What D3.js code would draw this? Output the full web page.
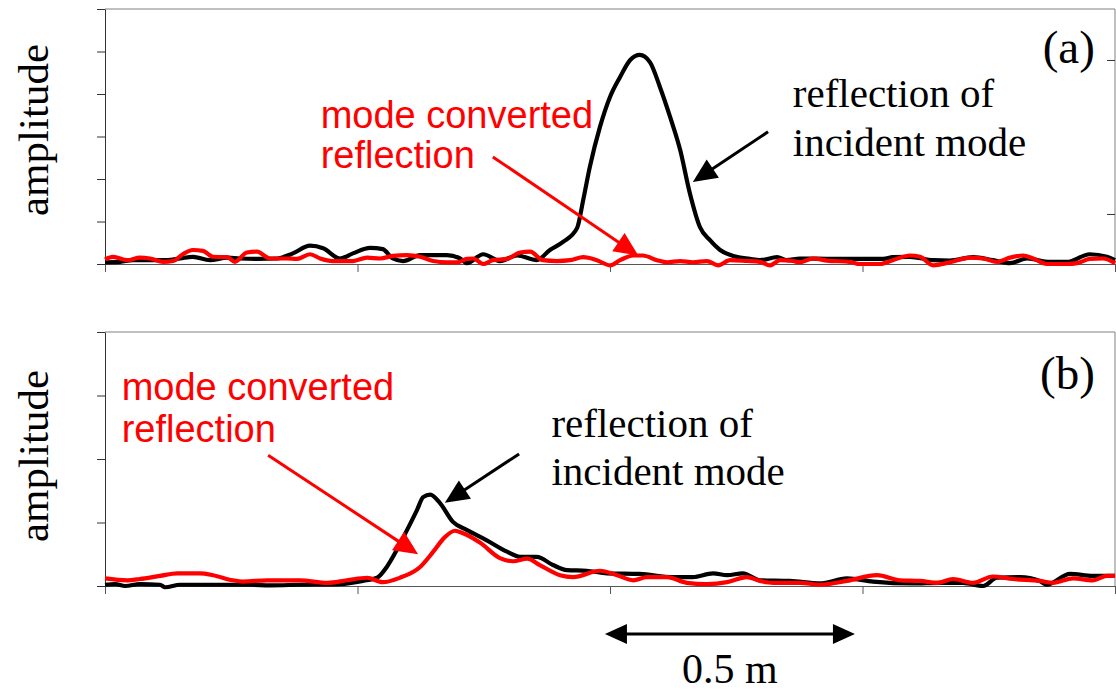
<!DOCTYPE html>
<html>
<head>
<meta charset="utf-8">
<script src="https://cdn.jsdelivr.net/npm/d3@7"></script>
<style>
  body { margin: 0; background: #fff; }
  svg { display: block; }
  .serif { font-family: "Liberation Serif", "Times New Roman", serif; }
  .sans { font-family: "Liberation Sans", Arial, sans-serif; }
</style>
</head>
<body>
<svg width="1116" height="695"></svg>
<script>
// [position (m), amplitude]
const blackA = [[0,0.04],[0.030,0.05],[0.055,0.09],[0.089,0.09],[0.123,0.09],[0.149,0.13],[0.174,0.17],
  [0.208,0.09],[0.242,0.15],[0.267,0.13],[0.301,0.12],[0.341,0.13],[0.372,0.25],[0.406,0.43],[0.432,0.37],
  [0.465,0.13],[0.491,0.25],[0.525,0.38],[0.550,0.35],[0.570,0.13],[0.590,0.07],[0.624,0.21],[0.677,0.21],
  [0.703,0.13],[0.717,0.02],[0.749,0.23],[0.782,0.07],[0.816,0.20],[0.855,0.09],[0.881,0.33],[0.907,0.52],
  [0.935,0.85],[0.947,1.51],[0.960,2.28],[0.980,3.22],[1.000,3.93],[1.020,4.40],[1.040,4.80],[1.059,4.92],
  [1.079,4.75],[1.099,4.16],[1.119,3.46],[1.139,2.68],[1.158,1.67],[1.178,0.87],[1.198,0.56],[1.218,0.33],
  [1.244,0.19],[1.277,0.12],[1.297,0.09],[1.331,0.16],[1.350,0.09],[1.376,0.13],[1.442,0.12],[1.541,0.12],
  [1.560,0.16],[1.594,0.17],[1.640,0.09],[1.673,0.08],[1.719,0.16],[1.758,0.09],[1.792,0.02],[1.826,0.13],
  [1.871,0.05],[1.905,0.05],[1.950,0.23],[1.984,0.17],[2.0,0.09]];

const redA = [[0,0.11],[0.016,0.17],[0.044,0.09],[0.069,0.15],[0.089,0.13],[0.115,0.05],[0.135,0.07],
  [0.154,0.23],[0.174,0.33],[0.194,0.31],[0.214,0.17],[0.242,0.16],[0.257,0.05],[0.281,0.27],[0.301,0.29],
  [0.327,0.13],[0.360,0.13],[0.380,0.12],[0.406,0.23],[0.426,0.13],[0.451,0.07],[0.491,0.07],[0.519,0.15],
  [0.545,0.13],[0.570,0.19],[0.598,0.21],[0.624,0.17],[0.650,0.07],[0.677,0.04],[0.697,0.04],[0.717,0.12],
  [0.729,0.13],[0.749,0],[0.768,0.09],[0.796,0.12],[0.822,0.27],[0.842,0.29],[0.867,0.09],[0.895,0.07],
  [0.921,0.09],[0.947,0.16],[0.974,0.09],[1.000,-0.03],[1.020,0.09],[1.046,0.20],[1.065,0.20],[1.093,0.09],
  [1.113,0.04],[1.139,0.07],[1.164,0.04],[1.192,0.07],[1.214,-0.03],[1.238,0.09],[1.271,0.07],[1.297,0.05],
  [1.317,-0.03],[1.337,0.09],[1.362,0.07],[1.376,0.04],[1.402,0.13],[1.430,0.08],[1.475,0.05],[1.495,0],
  [1.535,0],[1.560,0.09],[1.594,0.20],[1.614,0.17],[1.640,-0.03],[1.673,0.04],[1.713,0.15],[1.739,0.13],
  [1.766,0.05],[1.792,0.15],[1.818,0.20],[1.838,0.13],[1.865,0],[1.905,0],[1.925,0.02],[1.950,0.12],
  [1.976,0.13],[2.0,0.02]];

const blackB = [[0,0.02],[0.020,0.03],[0.040,0],[0.069,0.03],[0.109,0.02],[0.119,-0.02],[0.149,0.02],
  [0.287,0.02],[0.327,0.01],[0.386,0.02],[0.465,0.03],[0.511,0.08],[0.539,0.13],[0.558,0.30],[0.578,0.57],
  [0.598,0.88],[0.618,1.20],[0.630,1.40],[0.644,1.44],[0.663,1.31],[0.689,1.01],[0.717,0.88],[0.756,0.72],
  [0.796,0.54],[0.822,0.46],[0.855,0.46],[0.887,0.33],[0.915,0.25],[0.954,0.24],[0.994,0.20],[1.059,0.19],
  [1.125,0.14],[1.164,0.14],[1.204,0.20],[1.232,0.17],[1.263,0.20],[1.297,0.09],[1.356,0.08],[1.416,0.04],
  [1.469,0.12],[1.521,0.07],[1.600,0.04],[1.653,0.05],[1.699,0.05],[1.739,0],[1.766,0.13],[1.812,0.14],
  [1.851,0.08],[1.865,0.02],[1.911,0.19],[1.956,0.16],[2.0,0.16]];

const redB = [[0,0.12],[0.044,0.09],[0.069,0.11],[0.109,0.16],[0.143,0.20],[0.188,0.20],[0.214,0.17],
  [0.253,0.09],[0.273,0.07],[0.321,0.09],[0.386,0.09],[0.440,0.05],[0.479,0.09],[0.519,0.13],[0.550,0.06],
  [0.584,0.13],[0.624,0.30],[0.650,0.54],[0.673,0.77],[0.693,0.87],[0.709,0.83],[0.743,0.68],[0.782,0.44],
  [0.808,0.39],[0.836,0.43],[0.861,0.33],[0.901,0.17],[0.927,0.14],[0.980,0.24],[1.014,0.17],[1.046,0.09],
  [1.073,0.14],[1.113,0.14],[1.152,0.05],[1.192,0.03],[1.232,0.06],[1.271,0.14],[1.297,0.08],[1.323,0.05],
  [1.376,0.05],[1.416,0.02],[1.469,0.08],[1.529,0.17],[1.574,0.09],[1.614,0.08],[1.648,0.05],[1.679,0.11],
  [1.719,0.05],[1.758,0.15],[1.798,0.11],[1.851,0.08],[1.877,0.05],[1.917,0.12],[1.956,0.09],[1.984,0.16],
  [2.0,0.16]];

// tick values
const xTicks = [0, 0.5, 1, 1.5, 2];
const yTicksA = [0, 1, 2, 3, 4, 5, 6];
const yTicksB = [0, 1, 2, 3, 4];
const rightTicksA = [0, 1];

// scale bar (m)
const scaleBar = [0.99, 1.485];

const svg = d3.select('svg');
const margin = {left: 105, right: 1};
const width = +svg.attr('width');
const innerWidth = width - margin.left - margin.right;

const x = d3.scaleLinear().domain([0, 2]).range([margin.left, margin.left + innerWidth]);

const panels = [
  {id: 'a', top: 9, bottom: 264, max: 6, ticks: yTicksA, black: blackA, red: redA, labelMid: 130,
   redText: {x: 0.427, y: [3.2, 2.25]}, blackText: {x: 1.362, y: [3.7, 2.55]},
   redArrow: [0.768, 2.52, 1.056, 0.2], blackArrow: [1.313, 3.11, 1.164, 1.93], labelY: 4.72},
  {id: 'b', top: 332, bottom: 586, max: 4, ticks: yTicksB, black: blackB, red: redB, labelMid: 456,
   redText: {x: 0.033, y: [2.93, 2.27]}, blackText: {x: 0.884, y: [2.34, 1.59]},
   redArrow: [0.323, 2.06, 0.620, 0.50], blackArrow: [0.820, 2.08, 0.673, 1.31], labelY: 3.11}
];

// filled arrow head helper
function arrow(g, x1, y1, x2, y2, color, len, half) {
  const dx = x2 - x1, dy = y2 - y1, d = Math.sqrt(dx * dx + dy * dy);
  const ux = dx / d, uy = dy / d;
  const bx = x2 - ux * len, by = y2 - uy * len;
  g.append('line')
    .attr('x1', x1).attr('y1', y1).attr('x2', bx + ux * 2).attr('y2', by + uy * 2)
    .attr('stroke', color).attr('stroke-width', 3);
  g.append('path')
    .attr('d', `M${x2},${y2}L${bx - uy * half},${by + ux * half}L${bx + uy * half},${by - ux * half}Z`)
    .attr('fill', color);
}

panels.forEach(p => {
  const y = d3.scaleLinear().domain([0, p.max]).range([p.bottom, p.top]);
  const g = svg.append('g').attr('class', 'panel-' + p.id);

  // frame: top and right border
  g.append('line').attr('x1', x(0)).attr('x2', x(2)).attr('y1', p.top).attr('y2', p.top)
    .attr('stroke', '#808080').attr('stroke-width', 1);
  g.append('line').attr('x1', x(2)).attr('x2', x(2)).attr('y1', p.top).attr('y2', p.bottom)
    .attr('stroke', '#808080').attr('stroke-width', 1);

  const left = g.append('g')
    .attr('transform', `translate(${x(0)},0)`)
    .call(d3.axisLeft(y).tickValues(p.ticks).tickFormat('').tickSize(8).tickSizeOuter(0));
  left.selectAll('path, line').attr('stroke', '#333');

  const bottom = g.append('g')
    .attr('transform', `translate(0,${p.bottom})`)
    .call(d3.axisBottom(x).tickValues(xTicks).tickFormat('').tickSize(8).tickSizeOuter(0));
  bottom.selectAll('path, line').attr('stroke', '#555');

  if (p.id === 'a') {
    const yr = d3.scaleLinear().domain([-0.325, 1.331]).range([p.bottom, p.top]);
    const right = g.append('g')
      .attr('transform', `translate(${x(2)},0)`)
      .call(d3.axisLeft(yr).tickValues(rightTicksA).tickFormat('').tickSize(8).tickSizeOuter(0));
    right.select('.domain').remove();
    right.selectAll('line').attr('stroke', '#333');
  }

  const line = d3.line().x(d => x(d[0])).y(d => y(d[1])).curve(d3.curveMonotoneX);
  g.append('path').datum(p.black).attr('d', line)
    .attr('fill', 'none').attr('stroke', '#000').attr('stroke-width', 4.2).attr('stroke-linejoin', 'round');
  g.append('path').datum(p.red).attr('d', line)
    .attr('fill', 'none').attr('stroke', '#ff0000').attr('stroke-width', 4.2).attr('stroke-linejoin', 'round');

  // y label
  g.append('text').attr('class', 'serif')
    .attr('transform', `translate(48,${p.labelMid}) rotate(-90)`)
    .attr('text-anchor', 'middle').attr('font-size', 43).text('amplitude');

  // panel letter
  g.append('text').attr('class', 'serif')
    .attr('x', x(1.96)).attr('y', y(p.labelY))
    .attr('text-anchor', 'end').attr('font-size', 47).text('(' + p.id + ')');

  // annotations
  ['mode converted', 'reflection'].forEach((t, i) => {
    g.append('text').attr('class', 'sans')
      .attr('x', x(p.redText.x)).attr('y', y(p.redText.y[i]))
      .attr('font-size', 38).attr('fill', '#ff0000').text(t);
  });
  ['reflection of', 'incident mode'].forEach((t, i) => {
    g.append('text').attr('class', 'serif')
      .attr('x', x(p.blackText.x)).attr('y', y(p.blackText.y[i]))
      .attr('font-size', 41).attr('fill', '#000').text(t);
  });

  const ra = p.redArrow, ba = p.blackArrow;
  arrow(g, x(ra[0]), y(ra[1]), x(ra[2]), y(ra[3]), '#ff0000', 24, 11);
  arrow(g, x(ba[0]), y(ba[1]), x(ba[2]), y(ba[3]), '#000', 24, 11);
});

// 0.5 m scale bar
const barY = 634;
const bar = svg.append('g');
const bx1 = x(scaleBar[0]), bx2 = x(scaleBar[1]);
bar.append('line').attr('x1', bx1 + 20).attr('x2', bx2 - 20).attr('y1', barY).attr('y2', barY)
  .attr('stroke', '#000').attr('stroke-width', 3);
bar.append('path').attr('d', `M${bx1},${barY}L${bx1 + 22},${barY - 10}L${bx1 + 22},${barY + 10}Z`).attr('fill', '#000');
bar.append('path').attr('d', `M${bx2},${barY}L${bx2 - 22},${barY - 10}L${bx2 - 22},${barY + 10}Z`).attr('fill', '#000');
bar.append('text').attr('class', 'serif')
  .attr('x', (bx1 + bx2) / 2).attr('y', 683)
  .attr('text-anchor', 'middle').attr('font-size', 42).text('0.5 m');
</script>
</body>
</html>
